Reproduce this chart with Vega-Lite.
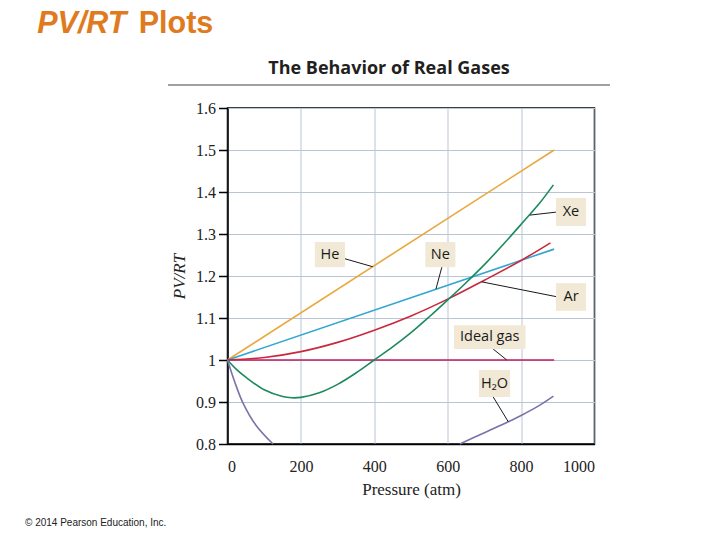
{
  "$schema": "https://vega.github.io/schema/vega-lite/v6.json",
  "description": "PV/RT versus pressure for real gases, with labelled curves.",
  "width": 367,
  "height": 336,
  "autosize": {"type": "none"},
  "padding": {"left": 227.5, "top": 108, "right": 125.5, "bottom": 96},
  "background": "white",
  "config": {
    "view": {"stroke": "black", "strokeWidth": 1.5},
    "axis": {
      "labelFont": "Liberation Serif",
      "labelFontSize": 16,
      "labelColor": "#222222",
      "titleFont": "Liberation Serif",
      "titleFontSize": 17,
      "titleFontWeight": "normal",
      "titleColor": "#222222",
      "gridColor": "#b7c5d5",
      "gridWidth": 1,
      "domainColor": "black",
      "domainWidth": 1.5
    }
  },
  "datasets": {
    "curves": [
      {"gas": "He", "part": "a", "p": 0, "v": 1.0},
      {"gas": "He", "part": "a", "p": 890, "v": 1.5},
      {"gas": "Ne", "part": "a", "p": 0, "v": 1.0},
      {"gas": "Ne", "part": "a", "p": 890, "v": 1.264},
      {"gas": "Ideal gas", "part": "a", "p": 0, "v": 1.0},
      {"gas": "Ideal gas", "part": "a", "p": 890, "v": 1.0},
      {"gas": "Ar", "part": "a", "p": 0, "v": 1.0},
      {"gas": "Ar", "part": "a", "p": 100, "v": 1.006},
      {"gas": "Ar", "part": "a", "p": 200, "v": 1.02},
      {"gas": "Ar", "part": "a", "p": 300, "v": 1.042},
      {"gas": "Ar", "part": "a", "p": 400, "v": 1.071},
      {"gas": "Ar", "part": "a", "p": 500, "v": 1.105},
      {"gas": "Ar", "part": "a", "p": 600, "v": 1.145},
      {"gas": "Ar", "part": "a", "p": 700, "v": 1.19},
      {"gas": "Ar", "part": "a", "p": 800, "v": 1.237},
      {"gas": "Ar", "part": "a", "p": 880, "v": 1.279},
      {"gas": "Xe", "part": "a", "p": 0, "v": 1.0},
      {"gas": "Xe", "part": "a", "p": 25, "v": 0.977},
      {"gas": "Xe", "part": "a", "p": 50, "v": 0.959},
      {"gas": "Xe", "part": "a", "p": 100, "v": 0.929},
      {"gas": "Xe", "part": "a", "p": 150, "v": 0.913},
      {"gas": "Xe", "part": "a", "p": 175, "v": 0.91},
      {"gas": "Xe", "part": "a", "p": 200, "v": 0.911},
      {"gas": "Xe", "part": "a", "p": 250, "v": 0.922},
      {"gas": "Xe", "part": "a", "p": 300, "v": 0.942},
      {"gas": "Xe", "part": "a", "p": 350, "v": 0.969},
      {"gas": "Xe", "part": "a", "p": 400, "v": 1.0},
      {"gas": "Xe", "part": "a", "p": 450, "v": 1.031},
      {"gas": "Xe", "part": "a", "p": 500, "v": 1.065},
      {"gas": "Xe", "part": "a", "p": 550, "v": 1.103},
      {"gas": "Xe", "part": "a", "p": 600, "v": 1.143},
      {"gas": "Xe", "part": "a", "p": 650, "v": 1.184},
      {"gas": "Xe", "part": "a", "p": 700, "v": 1.227},
      {"gas": "Xe", "part": "a", "p": 750, "v": 1.274},
      {"gas": "Xe", "part": "a", "p": 800, "v": 1.323},
      {"gas": "Xe", "part": "a", "p": 850, "v": 1.373},
      {"gas": "Xe", "part": "a", "p": 888, "v": 1.417},
      {"gas": "H2O", "part": "a", "p": 0, "v": 1.0},
      {"gas": "H2O", "part": "a", "p": 20, "v": 0.947},
      {"gas": "H2O", "part": "a", "p": 42, "v": 0.898},
      {"gas": "H2O", "part": "a", "p": 78, "v": 0.844},
      {"gas": "H2O", "part": "a", "p": 124, "v": 0.8},
      {"gas": "H2O", "part": "b", "p": 633, "v": 0.8},
      {"gas": "H2O", "part": "b", "p": 700, "v": 0.827},
      {"gas": "H2O", "part": "b", "p": 765, "v": 0.853},
      {"gas": "H2O", "part": "b", "p": 800, "v": 0.868},
      {"gas": "H2O", "part": "b", "p": 850, "v": 0.892},
      {"gas": "H2O", "part": "b", "p": 888, "v": 0.914}
    ],
    "labels": [
      {"label": "He", "x1": 238, "x2": 320, "y1": 1.221, "y2": 1.281, "lx": 320, "ly": 1.241, "px": 396, "py": 1.222},
      {"label": "Ne", "x1": 539, "x2": 621, "y1": 1.221, "y2": 1.281, "lx": 584, "ly": 1.221, "px": 568, "py": 1.169},
      {"label": "Xe", "x1": 895, "x2": 977, "y1": 1.319, "y2": 1.386, "lx": 895, "ly": 1.352, "px": 824, "py": 1.345},
      {"label": "Ar", "x1": 895, "x2": 977, "y1": 1.117, "y2": 1.183, "lx": 895, "ly": 1.151, "px": 693, "py": 1.186},
      {"label": "Ideal gas", "x1": 617, "x2": 812, "y1": 1.026, "y2": 1.083, "lx": 724, "ly": 1.026, "px": 761, "py": 1.0},
      {"label": "H₂O", "x1": 685, "x2": 770, "y1": 0.912, "y2": 0.976, "lx": 724, "ly": 0.912, "px": 765, "py": 0.853}
    ],
    "heading": [
      {"text": "The Behavior of Real Gases", "x": 440, "y": 1.681}
    ],
    "slide": [
      {"text": "PV/RT", "style": "italic", "x": -518.5, "y": 1.7786},
      {"text": "Plots", "style": "normal", "x": -242, "y": 1.7786}
    ],
    "footer": [
      {"text": "© 2014 Pearson Education, Inc.", "x": -551.8, "y": 0.6036}
    ],
    "underline": [
      {"x": -162, "x2": 1042, "y": 1.655}
    ]
  },
  "layer": [
    {
      "data": {"name": "curves"},
      "mark": {"type": "line", "strokeWidth": 1.6, "interpolate": "catmull-rom"},
      "encoding": {
        "x": {
          "field": "p",
          "type": "quantitative",
          "scale": {"domain": [0, 1000], "nice": false},
          "axis": {
            "title": "Pressure (atm)",
            "values": [0, 200, 400, 600, 800, 1000],
            "format": "d",
            "ticks": false,
            "labelPadding": 14,
            "titlePadding": 7,
            "grid": true
          }
        },
        "y": {
          "field": "v",
          "type": "quantitative",
          "scale": {"domain": [0.8, 1.6], "nice": false, "zero": false},
          "axis": {
            "title": "PV/RT",
            "titleFontStyle": "italic",
            "values": [0.8, 0.9, 1.0, 1.1, 1.2, 1.3, 1.4, 1.5, 1.6],
            "format": "~g",
            "tickSize": 9,
            "tickColor": "black",
            "tickWidth": 1.5,
            "labelPadding": 3,
            "titlePadding": 7,
            "grid": true
          }
        },
        "color": {
          "field": "gas",
          "type": "nominal",
          "legend": null,
          "scale": {
            "domain": ["He", "Ne", "Ar", "Xe", "Ideal gas", "H2O"],
            "range": ["#e9a83c", "#31a6d0", "#c9283e", "#1d8a5e", "#bf1d5f", "#7a72aa"]
          }
        },
        "detail": {"field": "part"}
      }
    },
    {
      "data": {"name": "labels"},
      "mark": {"type": "rule", "color": "#1a1a1a", "strokeWidth": 1},
      "encoding": {
        "x": {"field": "lx", "type": "quantitative"},
        "y": {"field": "ly", "type": "quantitative"},
        "x2": {"field": "px"},
        "y2": {"field": "py"}
      }
    },
    {
      "data": {"name": "labels"},
      "mark": {"type": "rect", "color": "#f1e9d5"},
      "encoding": {
        "x": {"field": "x1", "type": "quantitative"},
        "x2": {"field": "x2"},
        "y": {"field": "y1", "type": "quantitative"},
        "y2": {"field": "y2"}
      }
    },
    {
      "data": {"name": "labels"},
      "transform": [
        {"calculate": "(datum.x1 + datum.x2) / 2", "as": "cx"},
        {"calculate": "(datum.y1 + datum.y2) / 2", "as": "cy"}
      ],
      "mark": {"type": "text", "font": "Open Sans", "fontSize": 14.5, "color": "#1a1a1a", "baseline": "middle", "align": "center"},
      "encoding": {
        "x": {"field": "cx", "type": "quantitative"},
        "y": {"field": "cy", "type": "quantitative"},
        "text": {"field": "label"}
      }
    },
    {
      "data": {"name": "underline"},
      "mark": {"type": "rule", "color": "#a0a0a0", "strokeWidth": 2},
      "encoding": {
        "x": {"field": "x", "type": "quantitative"},
        "x2": {"field": "x2"},
        "y": {"field": "y", "type": "quantitative"}
      }
    },
    {
      "data": {"name": "heading"},
      "mark": {"type": "text", "font": "Open Sans", "fontSize": 18, "fontWeight": "bold", "color": "#231f20", "align": "center", "baseline": "alphabetic"},
      "encoding": {
        "x": {"field": "x", "type": "quantitative"},
        "y": {"field": "y", "type": "quantitative"},
        "text": {"field": "text"}
      }
    },
    {
      "data": {"name": "slide"},
      "transform": [{"filter": "datum.style === 'italic'"}],
      "mark": {"type": "text", "font": "Liberation Sans", "fontSize": 30.5, "fontWeight": "bold", "fontStyle": "italic", "color": "#e07a1e", "align": "left", "baseline": "alphabetic"},
      "encoding": {
        "x": {"field": "x", "type": "quantitative"},
        "y": {"field": "y", "type": "quantitative"},
        "text": {"field": "text"}
      }
    },
    {
      "data": {"name": "slide"},
      "transform": [{"filter": "datum.style === 'normal'"}],
      "mark": {"type": "text", "font": "Liberation Sans", "fontSize": 30.5, "fontWeight": "bold", "color": "#e07a1e", "align": "left", "baseline": "alphabetic"},
      "encoding": {
        "x": {"field": "x", "type": "quantitative"},
        "y": {"field": "y", "type": "quantitative"},
        "text": {"field": "text"}
      }
    },
    {
      "data": {"name": "footer"},
      "mark": {"type": "text", "font": "Liberation Sans", "fontSize": 10, "color": "#222222", "align": "left", "baseline": "alphabetic"},
      "encoding": {
        "x": {"field": "x", "type": "quantitative"},
        "y": {"field": "y", "type": "quantitative"},
        "text": {"field": "text"}
      }
    }
  ]
}
